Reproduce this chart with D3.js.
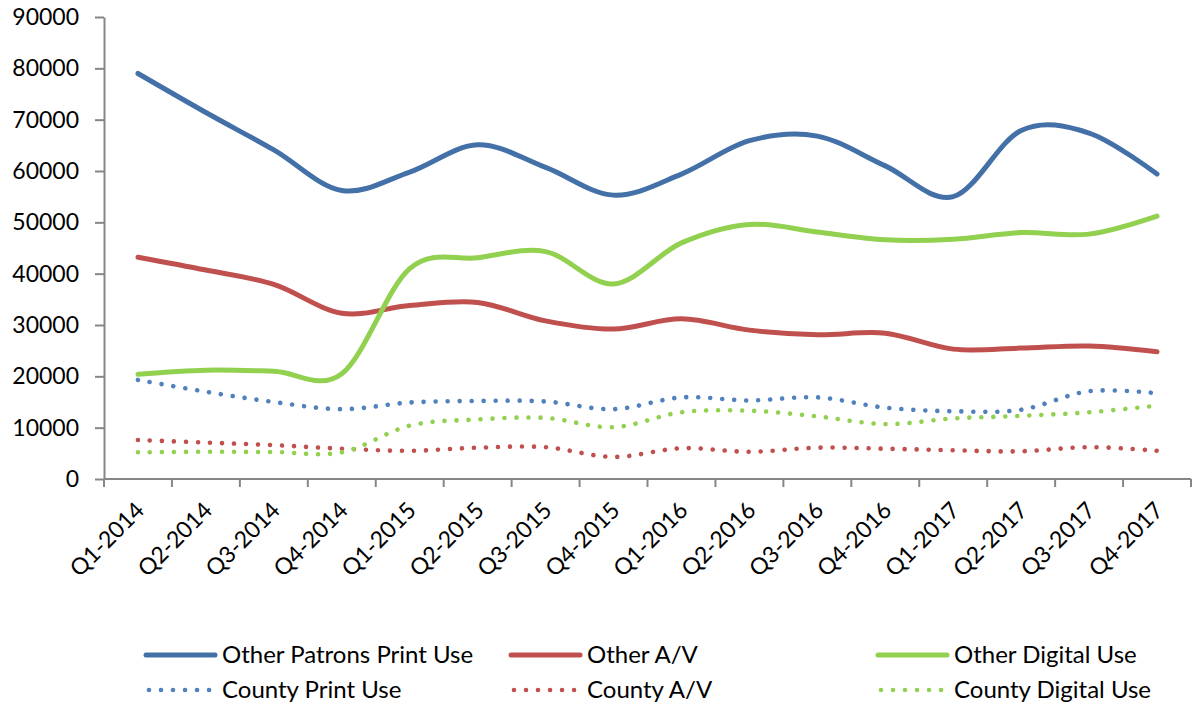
<!DOCTYPE html>
<html>
<head>
<meta charset="utf-8">
<script src="https://cdn.jsdelivr.net/npm/d3@7"></script>
<style>
  body { margin: 0; background: #fff; }
  text { font-family: Lato, "Open Sans", sans-serif; fill: #000; }
</style>
</head>
<body>
<div id="chart"></div>
<script>
var quarters = ["Q1-2014","Q2-2014","Q3-2014","Q4-2014","Q1-2015","Q2-2015","Q3-2015","Q4-2015",
                "Q1-2016","Q2-2016","Q3-2016","Q4-2016","Q1-2017","Q2-2017","Q3-2017","Q4-2017"];
var yTicks = [0,10000,20000,30000,40000,50000,60000,70000,80000,90000];

var otherPrint   = [79000,71400,64100,56200,59800,65100,60700,55300,59400,65900,66800,61000,55000,67900,67400,59400];
var otherAV      = [43200,40700,37900,32300,33800,34400,30800,29200,31200,29000,28100,28400,25300,25500,25900,24800];
var otherDigital = [20400,21200,21000,20500,41000,43100,44300,38000,46000,49600,48100,46600,46700,48000,47700,51200];
var countyPrint  = [19300,17000,15000,13600,14900,15200,15100,13600,15900,15300,15900,13900,13200,13500,17100,16700];
var countyAV     = [7600,7100,6600,5900,5500,6100,6200,4300,6000,5300,6100,5900,5600,5400,6200,5500];
var countyDigital= [5200,5300,5250,5200,10400,11600,11900,10100,13000,13300,12200,10700,11800,12300,13000,14300];

var seriesNames = ["Other Patrons Print Use","Other A/V","Other Digital Use","County Print Use","County A/V","County Digital Use"];
var seriesData = [otherPrint, otherAV, otherDigital, countyPrint, countyAV, countyDigital];
var seriesColors = ["#4470a8","#c0504d","#92d050","#4f81bd","#c0504d","#92d050"];
var seriesDotted = [false,false,false,true,true,true];

var width = 1192, height = 706;

var svg = d3.select("#chart").append("svg")
  .attr("width", width)
  .attr("height", height);

var x = d3.scaleBand().domain(quarters).range([104, 1191]);
var y = d3.scaleLinear().domain([0, 90000]).range([479, 17]);

// y axis
var yAxis = d3.axisLeft(y).tickValues(yTicks).tickFormat(d3.format("d"))
  .tickSize(9).tickSizeOuter(0).tickPadding(16);
var gy = svg.append("g").attr("transform", "translate(104,0)").call(yAxis);
gy.selectAll("path, line").attr("stroke", "#868686").attr("stroke-width", 2);
gy.selectAll("text").style("font-size", "23px").attr("font-family", null);

// x axis: ticks on category boundaries
var gx = svg.append("g");
gx.append("line")
  .attr("x1", x.range()[0]).attr("x2", x.range()[1])
  .attr("y1", y(0)).attr("y2", y(0))
  .attr("stroke", "#868686").attr("stroke-width", 2);
var bounds = quarters.map(function(q){ return x(q); }).concat([x.range()[1]]);
gx.selectAll(".xt").data(bounds).enter().append("line")
  .attr("x1", function(d){ return d; }).attr("x2", function(d){ return d; })
  .attr("y1", y(0)).attr("y2", y(0) + 8)
  .attr("stroke", "#868686").attr("stroke-width", 2);
gx.selectAll(".xl").data(quarters).enter().append("text")
  .attr("transform", function(d){ return "translate(" + (x(d) + x.bandwidth()/2 + 2) + "," + (y(0) + 27) + ") rotate(-45)"; })
  .attr("text-anchor", "end")
  .attr("dy", "0.35em")
  .style("font-size", "23px")
  .text(function(d){ return d; });

// lines
var line = d3.line()
  .x(function(d, i){ return x(quarters[i]) + x.bandwidth()/2; })
  .y(function(d){ return y(d); })
  .curve(d3.curveCardinal.tension(0));

seriesData.forEach(function(s, k){
  svg.append("path")
    .datum(s)
    .attr("d", line)
    .attr("fill", "none")
    .attr("stroke", seriesColors[k])
    .attr("stroke-width", seriesDotted[k] ? 4.6 : 5)
    .attr("stroke-linecap", "round")
    .attr("stroke-linejoin", "round")
    .attr("stroke-dasharray", seriesDotted[k] ? "0.01 12" : null);
});

// legend
var legX = [146, 511, 878], legY = [655, 690];
seriesNames.forEach(function(name, k){
  var lx = legX[k % 3], ly = legY[Math.floor(k / 3)];
  var g = svg.append("g").attr("transform", "translate(" + lx + "," + ly + ")");
  g.append("line")
    .attr("x1", seriesDotted[k] ? 3 : 0).attr("x2", 69)
    .attr("y1", 0).attr("y2", 0)
    .attr("stroke", seriesColors[k])
    .attr("stroke-width", seriesDotted[k] ? 4.6 : 5)
    .attr("stroke-linecap", "round")
    .attr("stroke-dasharray", seriesDotted[k] ? "0.01 12" : null);
  g.append("text")
    .attr("x", 76).attr("dy", "0.35em")
    .style("font-size", "24px")
    .text(name);
});
</script>
</body>
</html>
